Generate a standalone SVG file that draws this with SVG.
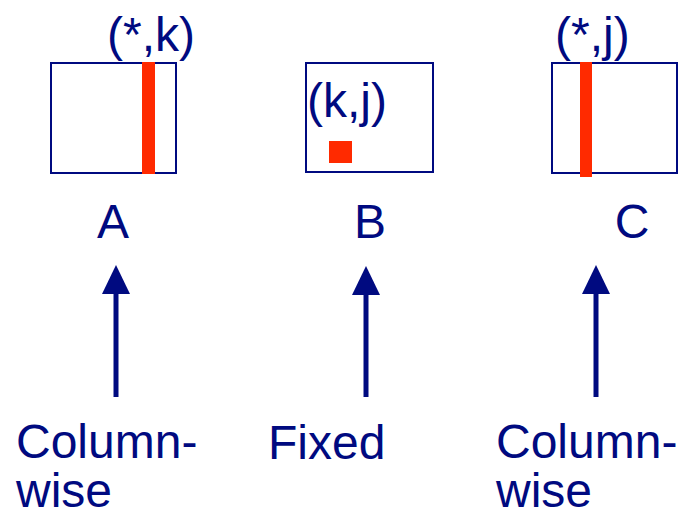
<svg xmlns="http://www.w3.org/2000/svg" width="691" height="518" viewBox="0 0 691 518">
<defs>
<style>
text{font-family:"Liberation Sans",Arial,Helvetica,sans-serif;font-size:48px;fill:#000a80}
.box{fill:#ffffff;stroke:#000a80;stroke-width:2}
.red{fill:#ff2a00}
.shaft{stroke:#000a80;stroke-width:5}
.head{fill:#000a80}
</style>
</defs>
<rect width="691" height="518" fill="#ffffff"/>
<g id="matrixA">
<rect class="box" x="51" y="63" width="125" height="110"/>
<rect class="red" x="142" y="62" width="13" height="112"/>
<text x="107" y="51">(*,k)</text>
<text x="113" y="238" text-anchor="middle">A</text>
</g>
<g id="matrixB">
<rect class="box" x="306" y="63" width="127" height="109"/>
<rect class="red" x="329" y="141" width="23" height="22"/>
<text x="307" y="117">(k,j)</text>
<text x="370" y="238" text-anchor="middle">B</text>
</g>
<g id="matrixC">
<rect class="box" x="552" y="63" width="125" height="110"/>
<rect class="red" x="580" y="62" width="12" height="115"/>
<text x="555" y="51">(*,j)</text>
<text x="632" y="238" text-anchor="middle">C</text>
</g>
<g id="labelA">
<text x="16" y="458">Column-</text>
<text x="16" y="507">wise</text>
</g>
<g id="labelB">
<text x="268" y="459">Fixed</text>
</g>
<g id="labelC">
<text x="496" y="458">Column-</text>
<text x="496" y="507">wise</text>
</g>
<g id="connectors">
<line class="shaft" x1="116" y1="397" x2="116" y2="290"/>
<polygon class="head" points="116,265 102,294 130,294"/>
<line class="shaft" x1="366" y1="397" x2="366" y2="290"/>
<polygon class="head" points="366,266 352,295 380,295"/>
<line class="shaft" x1="596" y1="397" x2="596" y2="290"/>
<polygon class="head" points="596,265 582,294 610,294"/>
</g>
</svg>
